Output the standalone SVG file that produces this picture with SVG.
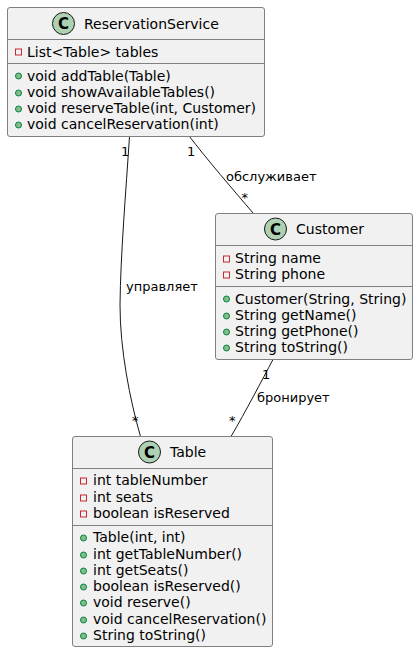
<svg xmlns="http://www.w3.org/2000/svg" width="418" height="653" viewBox="0 0 418 653">
<style>
text{font-family:"DejaVu Sans",sans-serif;font-size:14px;fill:#000}
.l{font-size:13px}
.c{font-weight:bold;font-size:15px;text-anchor:middle}
.box{fill:#F1F1F1;stroke:#808080;stroke-width:1}
.sep{stroke:#808080;stroke-width:1}
.spot{fill:#ADD1B2;stroke:#181818;stroke-width:1}
.pr{fill:none;stroke:#C82930;stroke-width:1}
.pu{fill:#84BE84;stroke:#038048;stroke-width:1}
#connectors path{fill:none;stroke:#181818;stroke-width:1}
</style>
<g id="connectors">
<path d="M129.5 136.5C126 190 120.5 255 120 305C120 350 130 400 140.5 436.5"/>
<path d="M189.5 136.5C205 157 235 192 253.5 213.5"/>
<path d="M273 359.5C262 380 246 411 231 436.5"/>
</g>
<g id="labels">
<text class="l" x="121" y="155.5">1</text>
<text class="l" x="126" y="291">управляет</text>
<text class="l" x="132" y="425">*</text>
<text class="l" x="187" y="156">1</text>
<text class="l" x="226" y="181">обслуживает</text>
<text class="l" x="241.5" y="202">*</text>
<text class="l" x="262" y="379">1</text>
<text class="l" x="257" y="402">бронирует</text>
<text class="l" x="229" y="425">*</text>
</g>
<g id="ReservationService">
<rect class="box" x="7.5" y="7.5" width="257" height="129" rx="2.5"/>
<circle class="spot" cx="63.5" cy="23.5" r="11"/>
<text class="c" x="63.5" y="29">C</text>
<text x="84" y="28.5">ReservationService</text>
<line class="sep" x1="7.5" y1="39.5" x2="264.5" y2="39.5"/>
<rect class="pr" x="15.5" y="49" width="6" height="6"/>
<text x="27" y="56.5">List&lt;Table&gt; tables</text>
<line class="sep" x1="7.5" y1="63.5" x2="264.5" y2="63.5"/>
<circle class="pu" cx="18.5" cy="76" r="3"/>
<text x="27" y="80.5">void addTable(Table)</text>
<circle class="pu" cx="18.5" cy="93" r="3"/>
<text x="27" y="97">void showAvailableTables()</text>
<circle class="pu" cx="18.5" cy="109" r="3"/>
<text x="27" y="113">void reserveTable(int, Customer)</text>
<circle class="pu" cx="18.5" cy="125" r="3"/>
<text x="27" y="129">void cancelReservation(int)</text>
</g>
<g id="Customer">
<rect class="box" x="215.5" y="213.5" width="197" height="146" rx="2.5"/>
<circle class="spot" cx="275.5" cy="229" r="11"/>
<text class="c" x="275.5" y="234.5">C</text>
<text x="296" y="234">Customer</text>
<line class="sep" x1="215.5" y1="245.5" x2="412.5" y2="245.5"/>
<rect class="pr" x="223.5" y="256" width="6" height="6"/>
<text x="235" y="262.5">String name</text>
<rect class="pr" x="223.5" y="272" width="6" height="6"/>
<text x="235" y="279">String phone</text>
<line class="sep" x1="215.5" y1="286.5" x2="412.5" y2="286.5"/>
<circle class="pu" cx="226.5" cy="299" r="3"/>
<text x="235" y="303.5">Customer(String, String)</text>
<circle class="pu" cx="226.5" cy="316" r="3"/>
<text x="235" y="319.5">String getName()</text>
<circle class="pu" cx="226.5" cy="332" r="3"/>
<text x="235" y="336">String getPhone()</text>
<circle class="pu" cx="226.5" cy="348" r="3"/>
<text x="235" y="352">String toString()</text>
</g>
<g id="Table">
<rect class="box" x="72.5" y="436.5" width="200" height="210" rx="2.5"/>
<circle class="spot" cx="149.5" cy="452" r="11"/>
<text class="c" x="149.5" y="457.5">C</text>
<text x="170" y="457">Table</text>
<line class="sep" x1="72.5" y1="468.5" x2="272.5" y2="468.5"/>
<rect class="pr" x="80.5" y="478" width="6" height="6"/>
<text x="93" y="485">int tableNumber</text>
<rect class="pr" x="80.5" y="495" width="6" height="6"/>
<text x="93" y="502">int seats</text>
<rect class="pr" x="80.5" y="511" width="6" height="6"/>
<text x="93" y="518">boolean isReserved</text>
<line class="sep" x1="72.5" y1="525.5" x2="272.5" y2="525.5"/>
<circle class="pu" cx="83.5" cy="538" r="3"/>
<text x="93" y="542">Table(int, int)</text>
<circle class="pu" cx="83.5" cy="555" r="3"/>
<text x="93" y="558.5">int getTableNumber()</text>
<circle class="pu" cx="83.5" cy="571" r="3"/>
<text x="93" y="575">int getSeats()</text>
<circle class="pu" cx="83.5" cy="587" r="3"/>
<text x="93" y="591">boolean isReserved()</text>
<circle class="pu" cx="83.5" cy="603" r="3"/>
<text x="93" y="607">void reserve()</text>
<circle class="pu" cx="83.5" cy="620" r="3"/>
<text x="93" y="624">void cancelReservation()</text>
<circle class="pu" cx="83.5" cy="636" r="3"/>
<text x="93" y="640">String toString()</text>
</g>
</svg>
